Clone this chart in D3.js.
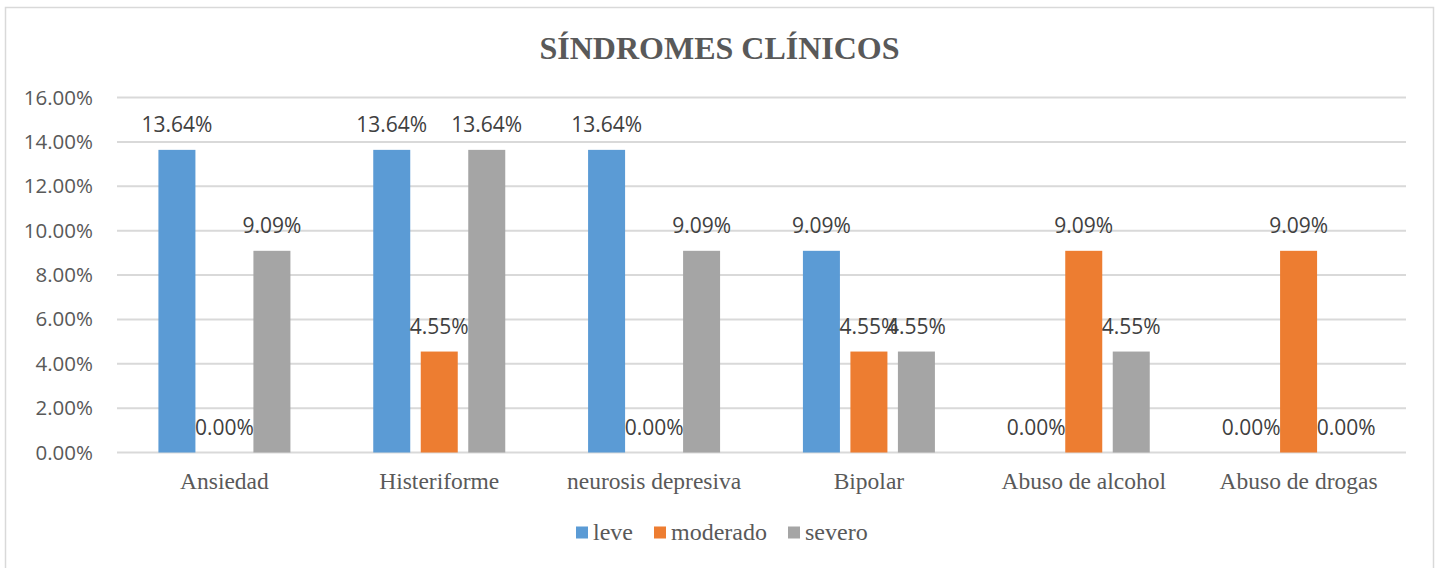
<!DOCTYPE html>
<html>
<head>
<meta charset="utf-8">
<script src="https://cdn.jsdelivr.net/npm/d3@7"></script>
<style>
  body { margin: 0; background: #fff; }
  svg { display: block; }
</style>
</head>
<body>
<div id="chart"></div>
<script>
const categories = ['Ansiedad', 'Histeriforme', 'neurosis depresiva', 'Bipolar', 'Abuso de alcohol', 'Abuso de drogas']
const seriesNames = ['leve', 'moderado', 'severo']
const leve = [13.64, 13.64, 13.64, 9.09, 0, 0]
const moderado = [0, 4.55, 0, 4.55, 9.09, 9.09]
const severo = [9.09, 13.64, 9.09, 4.55, 4.55, 0]
const yTicks = [0, 2, 4, 6, 8, 10, 12, 14, 16]
const colors = ['#5B9BD5', '#ED7D31', '#A5A5A5']

const W = 1438, H = 568
const plot = { left: 117, right: 1406, top: 97.5, bottom: 452.5 }
const serif = '"Liberation Serif", "Times New Roman", serif'
const sans = '"Open Sans", sans-serif'

const values = [leve, moderado, severo]
let rows = []
categories.forEach((c, i) => {
  seriesNames.forEach((s, j) => rows.push({ cat: c, series: s, idx: j, value: values[j][i] }))
})

let svg = d3.select('#chart').append('svg')
  .attr('width', W)
  .attr('height', H)

// chart border
svg.append('rect')
  .attr('x', 5.5).attr('y', 7.5)
  .attr('width', 1428).attr('height', 580)
  .attr('fill', 'none')
  .attr('stroke', '#D9D9D9')
  .attr('stroke-width', 1.5)

svg.append('text')
  .attr('x', 719.5).attr('y', 59)
  .attr('text-anchor', 'middle')
  .attr('font-family', serif)
  .attr('font-weight', 'bold')
  .attr('font-size', 32)
  .attr('fill', '#595959')
  .text('SÍNDROMES CLÍNICOS')

let y = d3.scaleLinear().domain([0, 16]).range([plot.bottom, plot.top])
let x0 = d3.scaleBand().domain(categories).range([plot.left, plot.right]).paddingInner(0).paddingOuter(0)
let groupW = 132
let x1 = d3.scaleBand().domain(seriesNames)
  .range([(x0.bandwidth() - groupW) / 2, (x0.bandwidth() + groupW) / 2])
  .paddingInner(0.221).paddingOuter(0)

// gridlines
svg.append('g')
  .selectAll('line')
  .data(yTicks)
  .enter().append('line')
    .attr('x1', plot.left).attr('x2', plot.right)
    .attr('y1', d => y(d)).attr('y2', d => y(d))
    .attr('stroke', '#D9D9D9')
    .attr('stroke-width', 2)

// y axis labels
svg.append('g')
  .selectAll('text')
  .data(yTicks)
  .enter().append('text')
    .attr('x', 93)
    .attr('y', d => y(d) + 7)
    .attr('text-anchor', 'end')
    .attr('font-family', sans)
    .attr('font-size', 20.5)
    .attr('fill', '#595959')
    .text(d => d.toFixed(2) + '%')

// bars
svg.append('g')
  .selectAll('rect')
  .data(rows)
  .enter().append('rect')
    .attr('x', d => x0(d.cat) + x1(d.series))
    .attr('y', d => y(d.value))
    .attr('width', x1.bandwidth())
    .attr('height', d => y(0) - y(d.value))
    .attr('fill', d => colors[d.idx])

// data labels
svg.append('g')
  .selectAll('text')
  .data(rows)
  .enter().append('text')
    .attr('x', d => x0(d.cat) + x1(d.series) + x1.bandwidth() / 2)
    .attr('y', d => y(d.value) - 18)
    .attr('text-anchor', 'middle')
    .attr('font-family', sans)
    .attr('font-size', 21)
    .attr('fill', '#404040')
    .text(d => d.value.toFixed(2) + '%')

// category labels
svg.append('g')
  .selectAll('text')
  .data(categories)
  .enter().append('text')
    .attr('x', d => x0(d) + x0.bandwidth() / 2)
    .attr('y', 489)
    .attr('text-anchor', 'middle')
    .attr('font-family', serif)
    .attr('font-size', 23.5)
    .attr('fill', '#595959')
    .text(d => d)

// legend
let legendX = [576, 654, 788]
let legend = svg.append('g')
  .selectAll('g')
  .data(seriesNames)
  .enter().append('g')
    .attr('transform', (d, i) => `translate(${legendX[i]},0)`)
legend.append('rect')
  .attr('x', 0).attr('y', 526.5)
  .attr('width', 12).attr('height', 12)
  .attr('fill', (d, i) => colors[i])
legend.append('text')
  .attr('x', 17).attr('y', 540)
  .attr('font-family', serif)
  .attr('font-size', 24)
  .attr('fill', '#595959')
  .text(d => d)
</script>
</body>
</html>
